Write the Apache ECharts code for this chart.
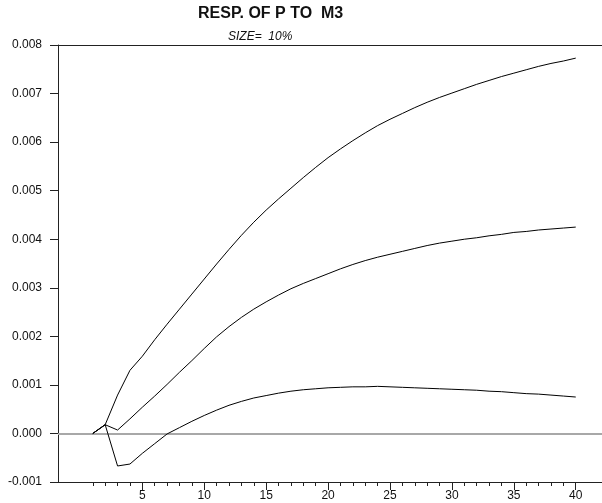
<!DOCTYPE html>
<html>
<head>
<meta charset="utf-8">
<script src="https://cdn.jsdelivr.net/npm/echarts@6/dist/echarts.min.js"></script>
<style>html,body{margin:0;padding:0;background:#fff}#c{width:602px;height:503px}</style>
</head>
<body>
<div id="c"></div>
<script>
// Horizon (steps)
var steps = [];
for (var i = 1; i <= 40; i++) steps.push(i);
// Tick labels
var xLabelValues = [5, 10, 15, 20, 25, 30, 35, 40];
var yTickValues = [-0.001, 0.000, 0.001, 0.002, 0.003, 0.004, 0.005, 0.006, 0.007, 0.008];

// Upper band
var upper = [0, 0.00018, 0.00079, 0.00130, 0.00159, 0.00193, 0.00225, 0.00256, 0.00287, 0.00318,
  0.00349, 0.00379, 0.00408, 0.00435, 0.00460, 0.00483, 0.00505, 0.00527, 0.00548, 0.00568,
  0.00586, 0.00603, 0.00619, 0.00634, 0.00647, 0.00659, 0.00671, 0.00682, 0.00692, 0.00701,
  0.00710, 0.00719, 0.00727, 0.00735, 0.00742, 0.00749, 0.00756, 0.00762, 0.00767, 0.00773];
// Point estimate
var middle = [0, 0.00018, 0.00007, 0.00030, 0.00054, 0.00077, 0.00101, 0.00126, 0.00150, 0.00175,
  0.00199, 0.00220, 0.00239, 0.00256, 0.00271, 0.00285, 0.00298, 0.00309, 0.00319, 0.00329,
  0.00339, 0.00348, 0.00356, 0.00363, 0.00369, 0.00375, 0.00381, 0.00387, 0.00392, 0.00396,
  0.00400, 0.00403, 0.00407, 0.00410, 0.00414, 0.00416, 0.00419, 0.00421, 0.00423, 0.00425];
// Lower band
var lower = [0, 0.00018, -0.00067, -0.00063, -0.00041, -0.00021, -0.00001, 0.00012, 0.00025, 0.00037,
  0.00048, 0.00058, 0.00066, 0.00073, 0.00078, 0.00083, 0.00087, 0.00090, 0.00092, 0.00094,
  0.00095, 0.00096, 0.00096, 0.00097, 0.00096, 0.00095, 0.00094, 0.00093, 0.00092, 0.00091,
  0.00090, 0.00089, 0.00087, 0.00086, 0.00084, 0.00082, 0.00081, 0.00079, 0.00077, 0.00075];

function pairs(arr) { return steps.map(function (s, i) { return [s, arr[i]]; }); }

var FONT = '"Liberation Sans", Arial, Helvetica, sans-serif';
var X_MIN = -1.81, X_MAX = 42.12;
var lineCol = '#222';

var chart = echarts.init(document.getElementById('c'), null, {renderer: 'canvas'});
var lineSeries = function (name, arr, withZero) {
  var s = {
    name: name, type: 'line', data: pairs(arr), xAxisIndex: 0, yAxisIndex: 0,
    showSymbol: false, symbol: 'none', animation: false, silent: true,
    lineStyle: {color: '#000', width: 1}, z: 3
  };
  if (withZero) {
    s.markLine = {
      silent: true, symbol: 'none', label: {show: false}, animation: false,
      lineStyle: {color: '#a8a8a8', width: 2, type: 'solid'},
      data: [{yAxis: 0}], z: 1
    };
  }
  return s;
};

chart.setOption({
  animation: false,
  backgroundColor: '#fff',
  title: [
    {text: 'RESP. OF P TO  M3', left: 198, top: 6, padding: 0,
     textStyle: {fontFamily: FONT, fontWeight: 'bold', fontSize: 16, color: '#111'}},
    {text: 'SIZE=  10%', left: 228, top: 31, padding: 0,
     textStyle: {fontFamily: FONT, fontStyle: 'italic', fontWeight: 'normal', fontSize: 12, color: '#111'}}
  ],
  grid: {left: 58, right: 0, top: 45, bottom: 21, containLabel: false},
  xAxis: [
    {type: 'value', position: 'bottom', min: X_MIN, max: X_MAX,
     axisLine: {show: true, onZero: false, lineStyle: {color: lineCol, width: 1}},
     axisTick: {show: true, customValues: steps, length: 4, lineStyle: {color: lineCol}},
     axisLabel: {show: false}, splitLine: {show: false}},
    {type: 'value', position: 'bottom', min: X_MIN, max: X_MAX,
     axisLine: {show: false, onZero: false},
     axisTick: {show: true, customValues: xLabelValues, length: 8, lineStyle: {color: lineCol}},
     axisLabel: {show: true, customValues: xLabelValues, margin: 8, fontSize: 12, fontFamily: FONT, color: '#111'},
     splitLine: {show: false}},
    {type: 'value', position: 'top', min: X_MIN, max: X_MAX,
     axisLine: {show: true, onZero: false, lineStyle: {color: lineCol, width: 1}},
     axisTick: {show: false}, axisLabel: {show: false}, splitLine: {show: false}}
  ],
  yAxis: [{
    type: 'value', min: -0.001, max: 0.008, interval: 0.001,
    axisLine: {show: true, onZero: false, lineStyle: {color: lineCol, width: 1}},
    axisTick: {show: true, length: 8, lineStyle: {color: lineCol}},
    axisLabel: {margin: 16, fontSize: 12, fontFamily: FONT, color: '#111',
      formatter: function (v) { return (Math.abs(v) < 1e-12 ? 0 : v).toFixed(3); }},
    splitLine: {show: false}
  }],
  series: [
    lineSeries('lower', lower, true),
    lineSeries('middle', middle, false),
    lineSeries('upper', upper, false)
  ]
});
</script>
</body>
</html>
